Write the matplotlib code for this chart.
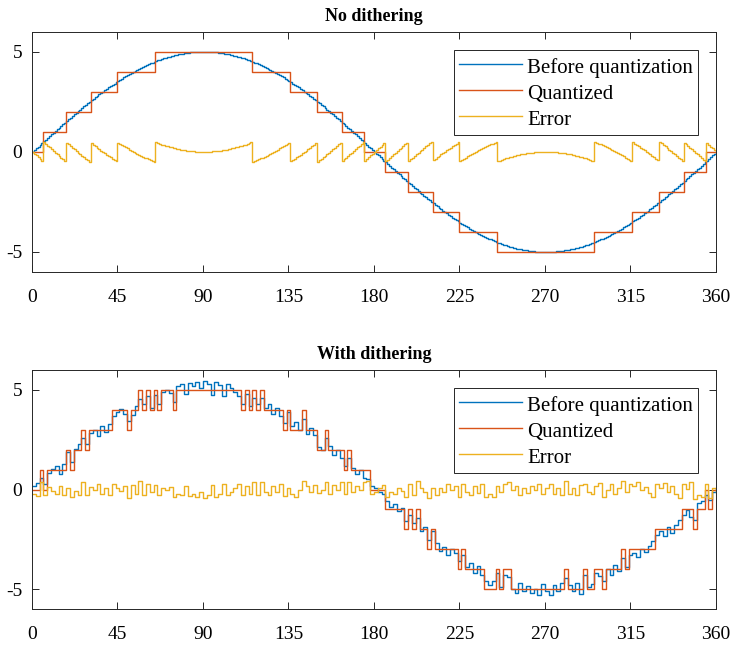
import matplotlib

matplotlib.use("Agg")
import matplotlib.pyplot as plt
import numpy as np

# undithered signal, one sample per degree
clean_deg = np.arange(0, 361, 1)
clean = [
    0.000, 0.087, 0.174, 0.262, 0.349, 0.436, 0.523, 0.609, 0.696, 0.782,
    0.868, 0.954, 1.040, 1.125, 1.210, 1.294, 1.378, 1.462, 1.545, 1.628,
    1.710, 1.792, 1.873, 1.954, 2.034, 2.113, 2.192, 2.270, 2.347, 2.424,
    2.500, 2.575, 2.650, 2.723, 2.796, 2.868, 2.939, 3.009, 3.078, 3.147,
    3.214, 3.280, 3.346, 3.410, 3.473, 3.536, 3.597, 3.657, 3.716, 3.774,
    3.830, 3.886, 3.940, 3.993, 4.045, 4.096, 4.145, 4.193, 4.240, 4.286,
    4.330, 4.373, 4.415, 4.455, 4.494, 4.532, 4.568, 4.603, 4.636, 4.668,
    4.698, 4.728, 4.755, 4.782, 4.806, 4.830, 4.851, 4.872, 4.891, 4.908,
    4.924, 4.938, 4.951, 4.963, 4.973, 4.981, 4.988, 4.993, 4.997, 4.999,
    5.000, 4.999, 4.997, 4.993, 4.988, 4.981, 4.973, 4.963, 4.951, 4.938,
    4.924, 4.908, 4.891, 4.872, 4.851, 4.830, 4.806, 4.782, 4.755, 4.728,
    4.698, 4.668, 4.636, 4.603, 4.568, 4.532, 4.494, 4.455, 4.415, 4.373,
    4.330, 4.286, 4.240, 4.193, 4.145, 4.096, 4.045, 3.993, 3.940, 3.886,
    3.830, 3.774, 3.716, 3.657, 3.597, 3.536, 3.473, 3.410, 3.346, 3.280,
    3.214, 3.147, 3.078, 3.009, 2.939, 2.868, 2.796, 2.723, 2.650, 2.575,
    2.500, 2.424, 2.347, 2.270, 2.192, 2.113, 2.034, 1.954, 1.873, 1.792,
    1.710, 1.628, 1.545, 1.462, 1.378, 1.294, 1.210, 1.125, 1.040, 0.954,
    0.868, 0.782, 0.696, 0.609, 0.523, 0.436, 0.349, 0.262, 0.174, 0.087,
    0.000, -0.087, -0.174, -0.262, -0.349, -0.436, -0.523, -0.609, -0.696, -0.782,
    -0.868, -0.954, -1.040, -1.125, -1.210, -1.294, -1.378, -1.462, -1.545, -1.628,
    -1.710, -1.792, -1.873, -1.954, -2.034, -2.113, -2.192, -2.270, -2.347, -2.424,
    -2.500, -2.575, -2.650, -2.723, -2.796, -2.868, -2.939, -3.009, -3.078, -3.147,
    -3.214, -3.280, -3.346, -3.410, -3.473, -3.536, -3.597, -3.657, -3.716, -3.774,
    -3.830, -3.886, -3.940, -3.993, -4.045, -4.096, -4.145, -4.193, -4.240, -4.286,
    -4.330, -4.373, -4.415, -4.455, -4.494, -4.532, -4.568, -4.603, -4.636, -4.668,
    -4.698, -4.728, -4.755, -4.782, -4.806, -4.830, -4.851, -4.872, -4.891, -4.908,
    -4.924, -4.938, -4.951, -4.963, -4.973, -4.981, -4.988, -4.993, -4.997, -4.999,
    -5.000, -4.999, -4.997, -4.993, -4.988, -4.981, -4.973, -4.963, -4.951, -4.938,
    -4.924, -4.908, -4.891, -4.872, -4.851, -4.830, -4.806, -4.782, -4.755, -4.728,
    -4.698, -4.668, -4.636, -4.603, -4.568, -4.532, -4.494, -4.455, -4.415, -4.373,
    -4.330, -4.286, -4.240, -4.193, -4.145, -4.096, -4.045, -3.993, -3.940, -3.886,
    -3.830, -3.774, -3.716, -3.657, -3.597, -3.536, -3.473, -3.410, -3.346, -3.280,
    -3.214, -3.147, -3.078, -3.009, -2.939, -2.868, -2.796, -2.723, -2.650, -2.575,
    -2.500, -2.424, -2.347, -2.270, -2.192, -2.113, -2.034, -1.954, -1.873, -1.792,
    -1.710, -1.628, -1.545, -1.462, -1.378, -1.294, -1.210, -1.125, -1.040, -0.954,
    -0.868, -0.782, -0.696, -0.609, -0.523, -0.436, -0.349, -0.262, -0.174, -0.087,
    0.000,
]

# dithered signal before quantization, one sample every 2 degrees
dithered_deg = np.arange(0, 362, 2)
dithered = [
    0.20, 0.35, 0.60, 0.30, 0.85, 1.05, 1.20, 0.80, 1.30, 1.90,
    1.40, 2.05, 2.30, 2.60, 2.30, 2.85, 3.00, 2.70, 3.20, 2.90,
    3.30, 3.70, 3.90, 4.05, 3.80, 3.45, 3.75, 4.20, 4.55, 4.30,
    4.70, 4.10, 4.75, 4.30, 4.90, 5.00, 4.85, 4.40, 5.20, 5.30,
    4.80, 5.35, 5.20, 5.40, 5.10, 5.45, 5.30, 4.75, 5.40, 5.25,
    4.70, 5.30, 5.10, 4.90, 4.70, 4.30, 4.80, 4.20, 4.60, 4.30,
    4.60, 4.10, 4.30, 3.80, 4.10, 3.70, 3.35, 3.90, 3.20, 3.40,
    3.00, 3.55, 2.80, 3.10, 2.75, 2.15, 2.00, 2.60, 2.20, 1.75,
    2.00, 1.60, 1.20, 1.60, 1.10, 0.80, 1.00, 0.60, 0.55, 0.20,
    0.10, -0.10, -0.25, -0.60, -0.90, -0.75, -1.10, -0.95, -1.60, -1.30,
    -1.70, -1.45, -2.10, -1.90, -2.55, -2.10, -2.70, -3.10, -2.90, -3.30,
    -3.00, -3.20, -3.60, -3.30, -3.90, -3.70, -4.20, -3.85, -4.30, -4.60,
    -4.80, -4.60, -4.20, -4.90, -4.30, -4.40, -5.00, -5.20, -4.70, -5.10,
    -4.85, -5.20, -5.00, -5.30, -4.75, -5.10, -5.30, -4.80, -5.10, -4.70,
    -4.45, -4.80, -5.10, -4.70, -5.25, -4.30, -4.90, -4.75, -4.20, -4.35,
    -4.60, -4.00, -4.30, -3.80, -4.10, -3.45, -3.90, -3.30, -3.20, -3.40,
    -3.00, -3.15, -2.85, -2.60, -2.30, -2.10, -2.35, -1.90, -2.20, -1.80,
    -1.55, -1.30, -1.05, -1.40, -1.52, -0.70, -0.60, -0.30, -0.55, -0.10,
    0.10,
]

titles = ["No dithering", "With dithering"]
labels = ["Before quantization", "Quantized", "Error"]
x_ticks = [0, 45, 90, 135, 180, 225, 270, 315, 360]
y_ticks = [-5, 0, 5]

BLUE = "#0072BD"
ORANGE = "#D95319"
YELLOW = "#EDB120"
AXIS = "#262626"

plt.rcParams["font.family"] = ["Liberation Serif", "DejaVu Serif"]
plt.rcParams["axes.unicode_minus"] = False

fig = plt.figure(figsize=(7.3, 6.47), dpi=100)
ax_top = fig.add_axes([0.0438, 0.5796, 0.9370, 0.3714])
ax_bot = fig.add_axes([0.0438, 0.0587, 0.9370, 0.3694])

panels = [
    (ax_top, titles[0], clean_deg, np.asarray(clean)),
    (ax_bot, titles[1], dithered_deg, np.asarray(dithered)),
]

for ax, title, deg, before in panels:
    quantized = np.round(before)
    error = quantized - before
    ax.step(deg, before, where="post", color=BLUE, linewidth=1.0, label=labels[0])
    ax.step(deg, quantized, where="post", color=ORANGE, linewidth=1.0, label=labels[1])
    ax.step(deg, error, where="post", color=YELLOW, linewidth=1.0, label=labels[2])

    ax.set_xlim(0, 360)
    ax.set_ylim(-6, 6)
    ax.set_xticks(x_ticks)
    ax.set_yticks(y_ticks)
    ax.set_title(title, fontsize=13, fontweight="bold", pad=8)
    ax.tick_params(direction="in", top=True, right=True, length=5, width=0.7,
                   labelsize=14, colors=AXIS, labelcolor="black")
    ax.tick_params(axis="x", pad=12)
    ax.tick_params(axis="y", pad=7)
    for spine in ax.spines.values():
        spine.set_color(AXIS)
        spine.set_linewidth(0.7)

    leg = ax.legend(loc="upper right", bbox_to_anchor=(0.9737, 0.925), borderaxespad=0,
                    fontsize=15, handlelength=3.0, handleheight=1.23, handletextpad=0.25,
                    labelspacing=0.15, borderpad=0.25, fancybox=False, framealpha=1)
    leg.get_frame().set_edgecolor(AXIS)
    leg.get_frame().set_linewidth(0.7)

fig.savefig("out.png", dpi=100)
